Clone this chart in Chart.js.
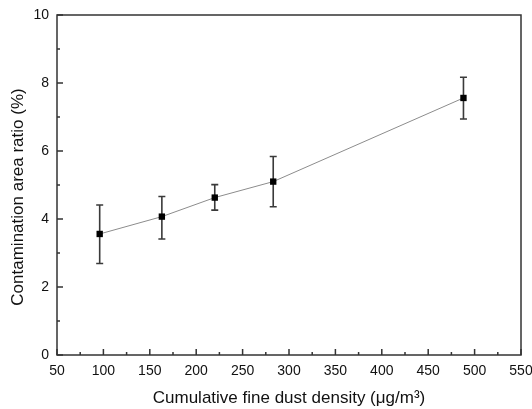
<!DOCTYPE html>
<html>
<head>
<meta charset="utf-8">
<script src="https://cdn.jsdelivr.net/npm/chart.js@4"></script>
<style>
    html, body { margin: 0; padding: 0; background: #fff; }
    #wrap { width: 532px; height: 409px; }
</style>
</head>
<body>
<div id="wrap"><canvas id="dust-chart" width="532" height="409"></canvas></div>
<script>
// values
const densityValues = [96, 163, 220, 283, 488];
const ratioValues = [3.56, 4.07, 4.63, 5.10, 7.56];
const ratioUpper = [4.41, 4.66, 5.01, 5.84, 8.17];
const ratioLower = [2.69, 3.41, 4.26, 4.36, 6.94];
const xTickLabels = [50, 100, 150, 200, 250, 300, 350, 400, 450, 500, 550];
const yTickLabels = [0, 2, 4, 6, 8, 10];
const yTitle = 'Contamination area ratio (%)';

const axisColor = '#333333';
const fontFamily = 'Arial, "Liberation Sans", sans-serif';

// error bars behind the markers
const errorBarPlugin = {
    id: 'errorBars',
    beforeDatasetsDraw(chart) {
        const { ctx, scales: { x, y } } = chart;
        ctx.save();
        ctx.strokeStyle = '#3a3a3a';
        ctx.lineWidth = 1.6;
        densityValues.forEach((xv, i) => {
            const px = x.getPixelForValue(xv);
            const top = y.getPixelForValue(ratioUpper[i]);
            const bottom = y.getPixelForValue(ratioLower[i]);
            ctx.beginPath();
            ctx.moveTo(px, top);
            ctx.lineTo(px, bottom);
            ctx.moveTo(px - 3.5, top);
            ctx.lineTo(px + 3.5, top);
            ctx.moveTo(px - 3.5, bottom);
            ctx.lineTo(px + 3.5, bottom);
            ctx.stroke();
        });
        ctx.restore();
    },
};

// box frame with inward ticks, plus the y title (sits a bit below centre in the original)
const framePlugin = {
    id: 'frame',
    afterDraw(chart) {
        const { ctx, chartArea: a, scales: { x, y } } = chart;
        ctx.save();
        ctx.strokeStyle = axisColor;
        ctx.lineWidth = 1.5;
        ctx.strokeRect(a.left, a.top, a.right - a.left, a.bottom - a.top);
        ctx.beginPath();
        x.ticks.forEach((t) => {
            const px = x.getPixelForValue(t.value);
            const len = xTickLabels.includes(t.value) ? 6 : 3;
            ctx.moveTo(px, a.bottom);
            ctx.lineTo(px, a.bottom - len);
        });
        y.ticks.forEach((t) => {
            const py = y.getPixelForValue(t.value);
            const len = yTickLabels.includes(t.value) ? 6 : 3;
            ctx.moveTo(a.left, py);
            ctx.lineTo(a.left + len, py);
        });
        ctx.stroke();

        ctx.translate(18, 197);
        ctx.rotate(-Math.PI / 2);
        ctx.fillStyle = '#111';
        ctx.font = `17px ${fontFamily}`;
        ctx.textAlign = 'center';
        ctx.textBaseline = 'middle';
        ctx.fillText(yTitle, 0, 0);
        ctx.restore();
    },
};

new Chart(document.getElementById('dust-chart').getContext('2d'), {
    type: 'scatter',
    data: {
        datasets: [
            {
                data: densityValues.map((xv, i) => ({ x: xv, y: ratioValues[i] })),
                showLine: true,
                borderColor: '#8c8c8c',
                borderWidth: 1,
                pointStyle: 'rect',
                pointRadius: 4.5,
                pointBackgroundColor: '#000',
                pointBorderColor: '#000',
                pointBorderWidth: 0,
            },
        ],
    },
    options: {
        responsive: false,
        animation: false,
        layout: { padding: { top: 15, right: 11, left: 0, bottom: 0 } },
        plugins: { legend: { display: false }, tooltip: { enabled: false } },
        scales: {
            x: {
                type: 'linear',
                min: 50,
                max: 550,
                afterFit(scale) {
                    scale.height = 54;
                    scale.paddingLeft = 0;
                    scale.paddingRight = 0;
                },
                ticks: {
                    stepSize: 25,
                    autoSkip: false,
                    maxRotation: 0,
                    padding: 8,
                    color: '#111',
                    font: { family: fontFamily, size: 14 },
                    callback: (v) => (xTickLabels.includes(v) ? String(v) : ''),
                },
                grid: { display: false, drawTicks: false },
                border: { display: false },
                title: {
                    display: true,
                    text: 'Cumulative fine dust density (\u03bcg/m\u00b3)',
                    color: '#111',
                    font: { family: fontFamily, size: 17 },
                    padding: { top: 6, bottom: 0 },
                },
            },
            y: {
                type: 'linear',
                min: 0,
                max: 10,
                afterFit(scale) {
                    scale.width = 57;
                    scale.paddingTop = 0;
                    scale.paddingBottom = 0;
                },
                ticks: {
                    stepSize: 1,
                    autoSkip: false,
                    padding: 8,
                    color: '#111',
                    font: { family: fontFamily, size: 14 },
                    callback: (v) => (yTickLabels.includes(v) ? String(v) : ''),
                },
                grid: { display: false, drawTicks: false },
                border: { display: false },
            },
        },
    },
    plugins: [errorBarPlugin, framePlugin],
});
</script>
</body>
</html>
